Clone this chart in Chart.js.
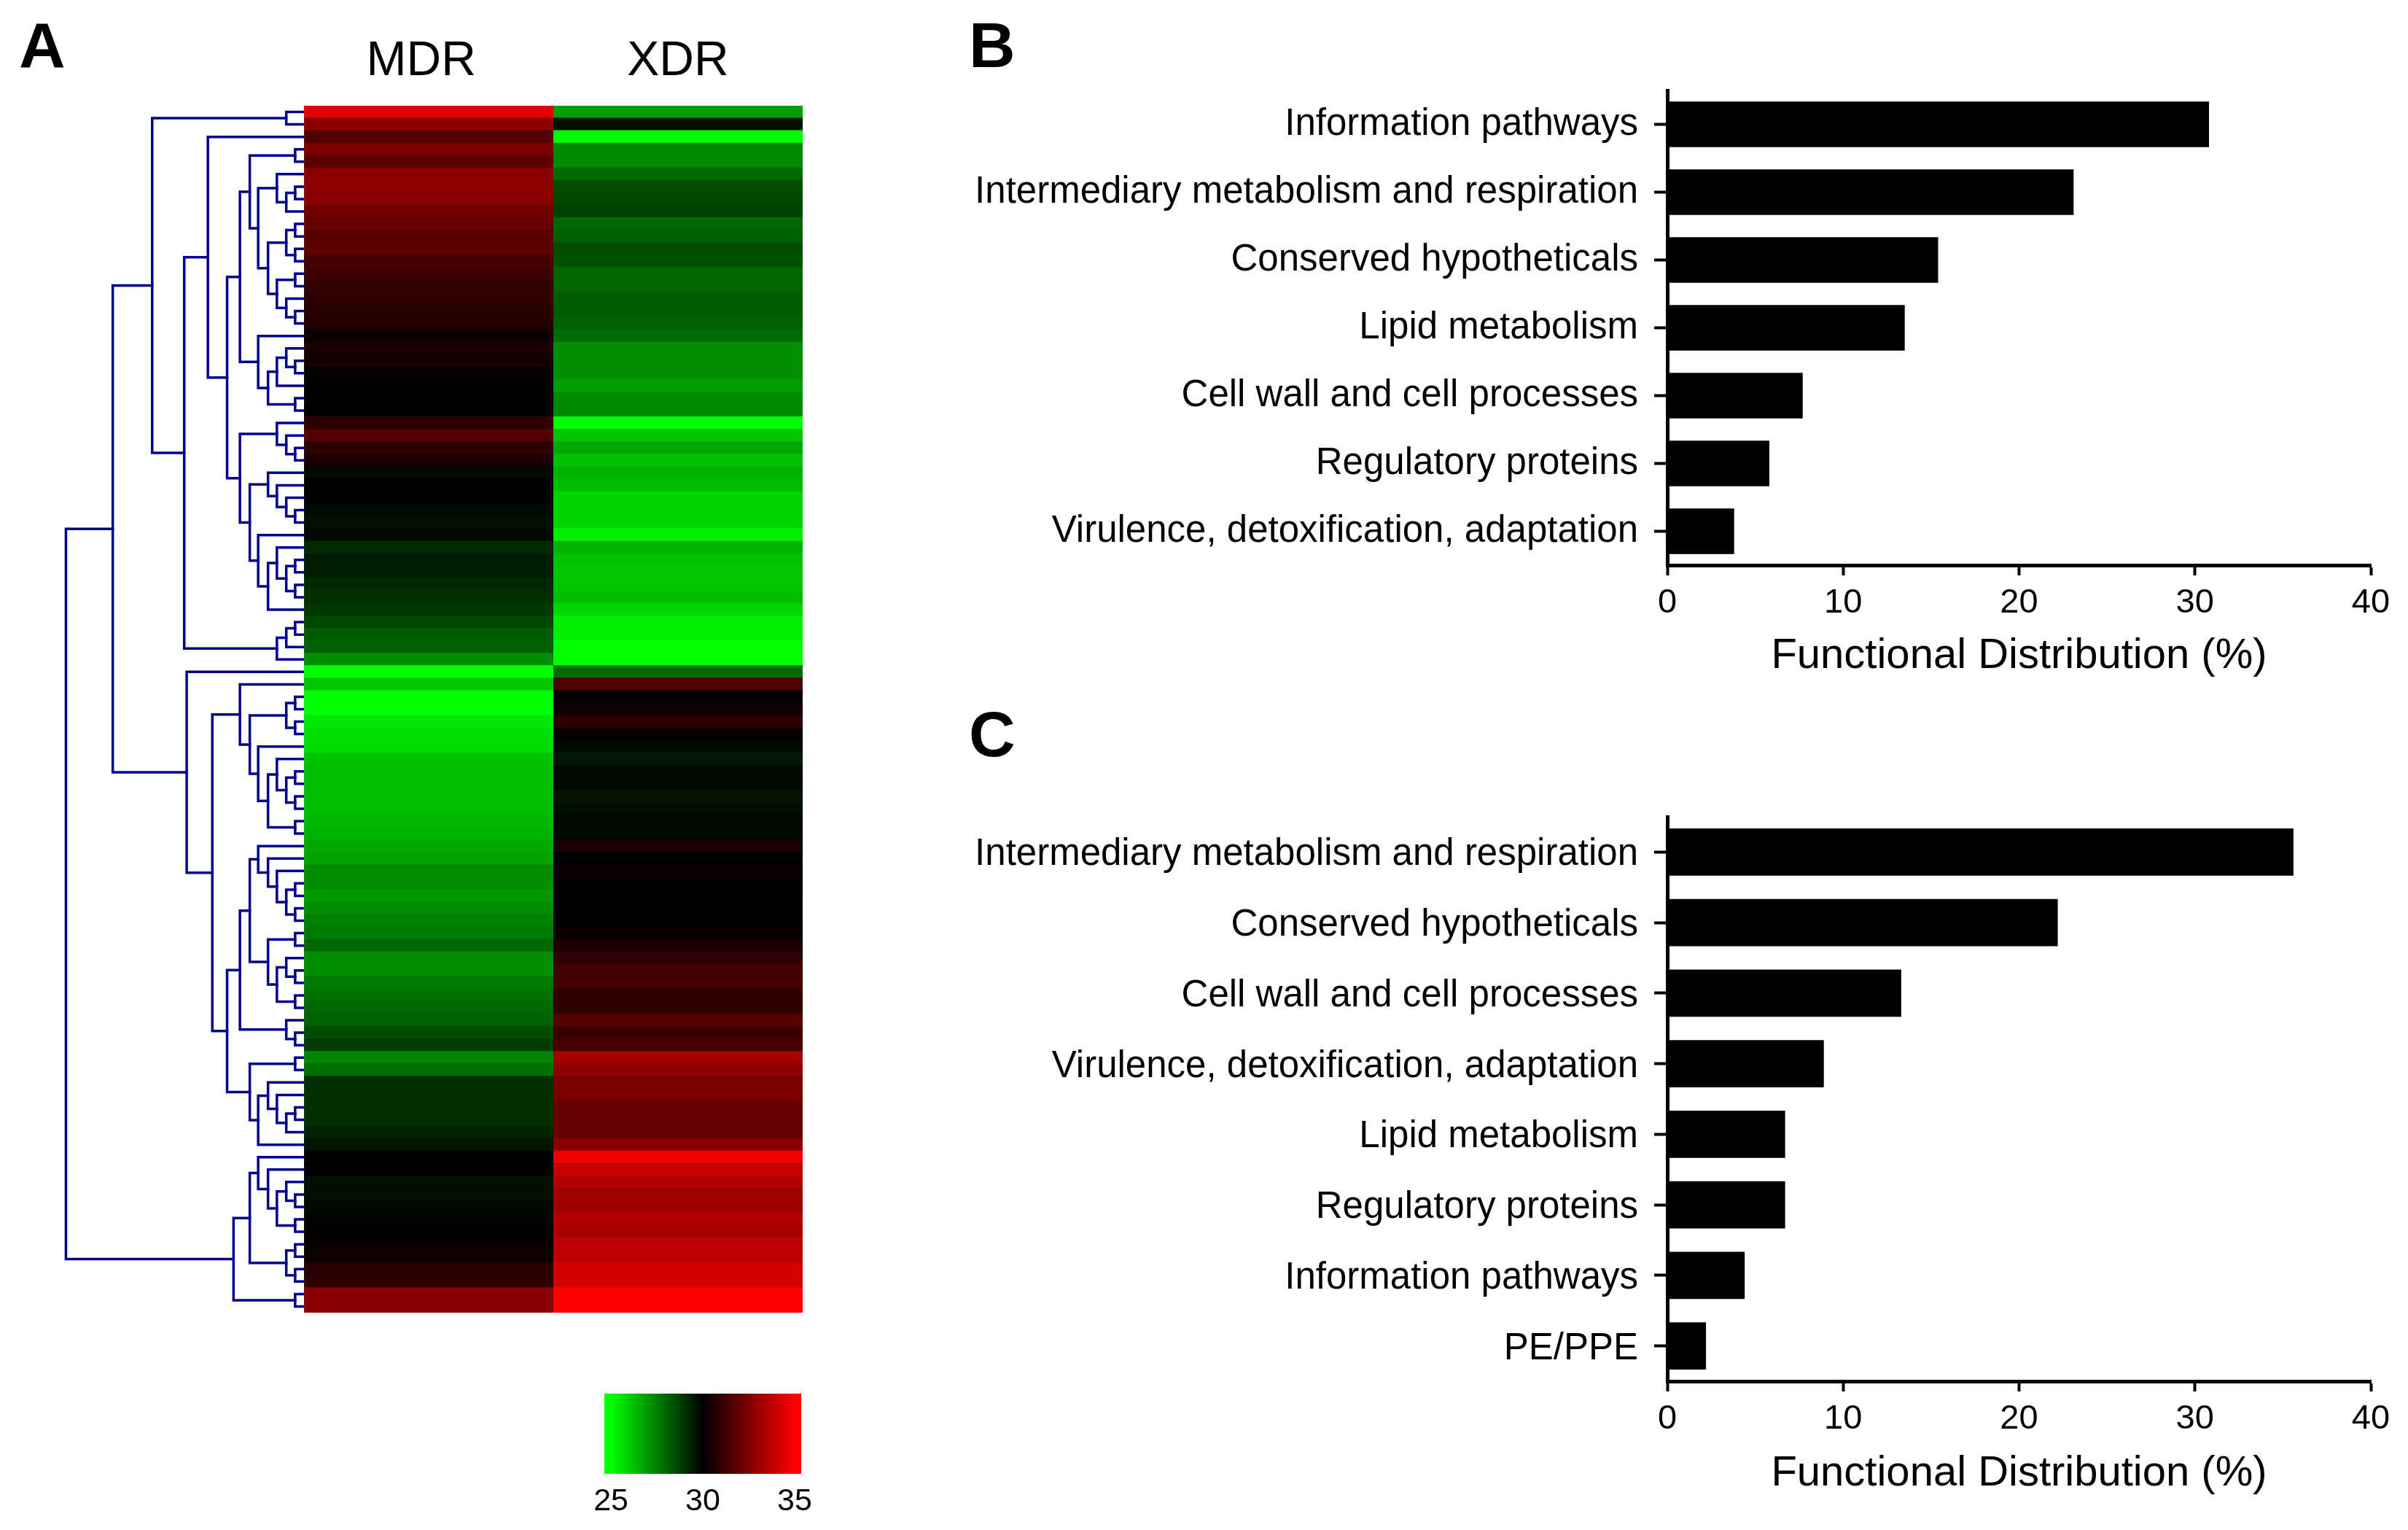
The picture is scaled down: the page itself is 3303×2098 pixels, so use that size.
<!DOCTYPE html>
<html>
<head>
    <title>MDR / XDR heat map and functional distribution</title>
    <script src="https://cdnjs.cloudflare.com/ajax/libs/Chart.js/4.4.1/chart.umd.min.js"></script>
    <style>
        html, body { margin: 0; background: #fff; overflow: hidden; }
        body { width: 3303px; height: 2098px; position: relative; font-family: "Liberation Sans", Arial, sans-serif; }
        canvas { position: absolute; }
        .letter { position: absolute; font-weight: bold; font-size: 88px; line-height: 88px; color: #000; }
    </style>
</head>
<body>
    <div class="letter" style="left:26px; top:18px;">A</div>
    <div class="letter" style="left:1329px; top:18px;">B</div>
    <div class="letter" style="left:1329px; top:963px;">C</div>

    <canvas id="dendroChart" width="357" height="1900" style="left:60px; top:0;"></canvas>
    <canvas id="heatChart" width="684" height="1900" style="left:417px; top:0;"></canvas>
    <canvas id="scaleChart" width="400" height="220" style="left:780px; top:1878px;"></canvas>
    <canvas id="barChartB" width="2003" height="879" style="left:1300px; top:60px;"></canvas>
    <canvas id="barChartC" width="2003" height="1000" style="left:1300px; top:1060px;"></canvas>

    <script>
        // Heat map, one value per gene row (colour scale runs 25 to 35)
        const columns = ['MDR', 'XDR'];
        const mdrValues = [
            34.4, 32.7, 31.6, 32.4, 31.8, 32.7, 32.75, 32.7, 32.2, 32.0,
            31.7, 31.8, 31.4, 31.2, 31.0, 30.9, 30.8, 30.7, 30.2, 30.5,
            30.4, 30.1, 30.0, 30.0, 30.0, 30.9, 31.6, 30.9, 30.5, 29.85,
            30.0, 30.0, 29.8, 29.7, 29.8, 29.2, 29.45, 29.45, 29.2, 29.05,
            28.9, 28.6, 28.2, 28.1, 27.2, 25.0, 26.1, 25.0, 25.0, 25.45,
            25.6, 25.7, 26.2, 26.3, 26.3, 26.3, 26.3, 26.4, 26.5, 26.7,
            26.8, 27.25, 27.2, 27.0, 27.25, 27.5, 27.6, 28.0, 27.2, 27.2,
            27.6, 27.8, 28.0, 28.1, 28.5, 28.8, 27.4, 27.8, 29.1, 29.05,
            29.05, 29.05, 29.3, 29.6, 30.0, 30.0, 29.7, 29.7, 29.85, 29.9,
            30.0, 30.15, 30.3, 30.8, 30.9, 32.7, 32.7
        ];
        const xdrValues = [
            26.9, 29.7, 25.0, 27.3, 27.3, 27.9, 28.5, 28.6, 28.7, 28.0,
            28.1, 28.5, 28.4, 28.0, 28.0, 28.2, 28.2, 28.1, 27.9, 27.2,
            27.2, 27.2, 26.9, 27.3, 27.3, 25.0, 26.1, 26.7, 26.2, 26.5,
            26.3, 25.85, 25.85, 25.85, 25.3, 26.5, 26.2, 26.1, 26.1, 26.3,
            25.8, 25.3, 25.3, 25.0, 25.0, 27.9, 31.5, 30.0, 30.3, 30.9,
            30.2, 29.8, 29.5, 29.8, 29.8, 29.6, 29.7, 29.85, 29.85, 30.5,
            30.0, 30.2, 30.1, 30.0, 30.0, 30.0, 30.15, 30.5, 30.9, 31.3,
            31.3, 30.9, 30.9, 31.7, 31.1, 31.4, 33.2, 32.8, 32.4, 32.4,
            32.0, 32.0, 32.0, 32.7, 34.7, 33.9, 33.5, 33.1, 33.1, 33.5,
            33.3, 33.7, 33.7, 34.2, 34.2, 35.0, 35.0
        ];
        const scaleTicks = [25, 30, 35];

        // Dendrogram branches: [distance, upper child, lower child], a plain number is a gene row
        const armA6 = [130,
            [110, [18, 3, 4],
                [93, [55, 5, [36, [18, 6, 7], 8]],
                    [73, [36, [18, 9, 10], [18, 11, 12]],
                        [55, [18, 13, 14], [36, 15, [18, 16, 17]]]]]],
            [93, 18, [73, [55, [36, 19, [18, 20, 21]], 22], [18, 23, 24]]]];
        const armA7 = [130,
            [55, 25, [36, 26, [18, 27, 28]]],
            [110, [73, 29, [55, 30, [36, 31, [18, 32, 33]]]],
                [93, 34, [73, [55, 35, [36, [18, 36, 37], [18, 38, 39]]], 40]]]];
        const armA = [308, [36, 0, 1],
            [243, [195, 2, [156, armA6, armA7]], [55, [36, [18, 41, 42], 43], 44]]];
        const armB2 = [130, 46,
            [110, [36, [18, 47, 48], [18, 49, 50]],
                [93, 51, [73, [55, 52, [36, [18, 53, 54], [18, 55, 56]]], [18, 57, 58]]]]];
        const armB4 = [130,
            [110, [93, 59, [73, 60, [55, 61, [36, [18, 62, 63], [18, 64, 65]]]]],
                [73, [18, 66, 67], [55, [36, 68, [18, 69, 70]], [18, 71, 72]]]],
            [36, 73, [18, 74, 75]]];
        const armB5 = [110, [18, 76, 77],
            [93, [73, 78, [55, 79, [36, [18, 80, 81], 82]]], 83]];
        const armB = [238, 45, [186, armB2, [156, armB4, armB5]]];
        const armC = [143,
            [110, [93, 84, [73, 85, [55, [36, 86, [18, 87, 88]], [18, 89, 90]]]],
                [36, [18, 91, 92], [18, 93, 94]]],
            [18, 95, 96]];
        const dendroRoot = [483, [388, armA, armB], armC];

        // Panel B
        const labelsB = ['Information pathways', 'Intermediary metabolism and respiration', 'Conserved hypotheticals',
            'Lipid metabolism', 'Cell wall and cell processes', 'Regulatory proteins', 'Virulence, detoxification, adaptation'];
        const valuesB = [30.8, 23.1, 15.4, 13.5, 7.7, 5.8, 3.8];

        // Panel C
        const labelsC = ['Intermediary metabolism and respiration', 'Conserved hypotheticals', 'Cell wall and cell processes',
            'Virulence, detoxification, adaptation', 'Lipid metabolism', 'Regulatory proteins', 'Information pathways', 'PE/PPE'];
        const valuesC = [35.6, 22.2, 13.3, 8.9, 6.7, 6.7, 4.4, 2.2];

        const fontName = '"Liberation Sans", Arial, sans-serif';
        Chart.defaults.font.family = fontName;
        Chart.defaults.color = '#000';
        Chart.defaults.animation = false;
        Chart.defaults.responsive = false;
        Chart.defaults.plugins.legend.display = false;
        Chart.defaults.plugins.tooltip.enabled = false;

        // green at 25, black at 30, red at 35
        function heatColor(value) {
            var t = Math.max(-1, Math.min(1, (value - 30) / 5));
            var level = Math.round(Math.abs(t) * 255);
            return t >= 0 ? 'rgb(' + level + ',0,0)' : 'rgb(0,' + level + ',0)';
        }

        // Function to turn the branch tree into one line dataset per bracket
        function collectBrackets(node, datasets) {
            if (typeof node === 'number') {
                return { x: 0, y: node };
            }
            var upper = collectBrackets(node[1], datasets);
            var lower = collectBrackets(node[2], datasets);
            datasets.push({
                data: [
                    { x: upper.x, y: upper.y },
                    { x: node[0], y: upper.y },
                    { x: node[0], y: lower.y },
                    { x: lower.x, y: lower.y }
                ],
                showLine: true,
                borderColor: '#00008f',
                borderWidth: 3.5,
                borderCapStyle: 'square',
                pointRadius: 0,
                clip: false
            });
            return { x: node[0], y: (upper.y + lower.y) / 2 };
        }

        var brackets = [];
        collectBrackets(dendroRoot, brackets);
        new Chart(document.getElementById('dendroChart'), {
            type: 'scatter',
            data: { datasets: brackets },
            options: {
                layout: { padding: { top: 145, bottom: 100 }, autoPadding: false },
                scales: {
                    x: { display: false, reverse: true, min: 0, max: 528 },
                    y: { display: false, reverse: true, min: -0.5, max: mdrValues.length - 0.5 }
                }
            }
        });

        // Heat map as stacked horizontal bars, one stack per gene row
        new Chart(document.getElementById('heatChart'), {
            type: 'bar',
            data: {
                labels: mdrValues.map(function (v, i) { return i; }),
                datasets: [mdrValues, xdrValues].map(function (values, c) {
                    return {
                        label: columns[c],
                        data: values.map(function () { return 1; }),
                        backgroundColor: values.map(heatColor),
                        borderWidth: 0,
                        barPercentage: 1.06,
                        categoryPercentage: 1
                    };
                })
            },
            options: {
                indexAxis: 'y',
                layout: { padding: { bottom: 100 }, autoPadding: false },
                scales: {
                    y: { display: false, stacked: true },
                    x: {
                        stacked: true,
                        position: 'top',
                        min: 0,
                        max: 2,
                        border: { display: false },
                        grid: { display: false, drawTicks: false },
                        afterBuildTicks: function (scale) {
                            scale.ticks = [{ value: 0.47 }, { value: 1.5 }];
                        },
                        afterFit: function (scale) { scale.height = 145; },
                        ticks: {
                            padding: 21,
                            maxRotation: 0,
                            font: { size: 66 },
                            callback: function (value) { return columns[Math.floor(value)]; }
                        }
                    }
                }
            }
        });

        // Colour key: a single floating bar filled along the value scale
        new Chart(document.getElementById('scaleChart'), {
            type: 'bar',
            data: {
                labels: ['key'],
                datasets: [{
                    data: [[24.64, 35.36]],
                    borderWidth: 0,
                    barPercentage: 1,
                    categoryPercentage: 1,
                    backgroundColor: function (context) {
                        var chart = context.chart;
                        if (!chart.chartArea) { return '#000'; }
                        var x = chart.scales.x;
                        var fill = chart.ctx.createLinearGradient(x.left, 0, x.right, 0);
                        scaleTicks.forEach(function (tick) {
                            var stop = (x.getPixelForValue(tick) - x.left) / (x.right - x.left);
                            fill.addColorStop(stop, heatColor(tick));
                        });
                        return fill;
                    }
                }]
            },
            options: {
                indexAxis: 'y',
                layout: { padding: { left: 49, right: 81, top: 33 }, autoPadding: false },
                scales: {
                    y: { display: false },
                    x: {
                        min: 24.64,
                        max: 35.36,
                        border: { display: false },
                        grid: { display: false, drawTicks: false },
                        afterBuildTicks: function (scale) {
                            scale.ticks = scaleTicks.map(function (v) { return { value: v }; });
                        },
                        afterFit: function (scale) { scale.height = 77; },
                        ticks: { padding: 12, font: { size: 43 }, maxRotation: 0 }
                    }
                }
            }
        });

        // Function to create one functional distribution bar panel
        function createBarPanel(canvasId, labels, values, paddingTop, axisHeight, labelShift) {
            return new Chart(document.getElementById(canvasId), {
                type: 'bar',
                data: {
                    labels: labels,
                    datasets: [{
                        data: values,
                        backgroundColor: '#000',
                        barPercentage: 0.67,
                        categoryPercentage: 1
                    }]
                },
                options: {
                    indexAxis: 'y',
                    layout: { padding: { top: paddingTop, right: 51 }, autoPadding: false },
                    scales: {
                        y: {
                            border: { color: '#000', width: 5 },
                            grid: { offset: false, drawOnChartArea: false, color: '#000', tickLength: 18, tickWidth: 4 },
                            afterFit: function (scale) { scale.width = 987; },
                            ticks: { padding: 22, font: { size: 51 }, autoSkip: false, labelOffset: labelShift }
                        },
                        x: {
                            min: 0,
                            max: 40,
                            border: { color: '#000', width: 5 },
                            grid: { drawOnChartArea: false, color: '#000', tickLength: 14, tickWidth: 4 },
                            afterFit: function (scale) { scale.height = axisHeight; },
                            ticks: { stepSize: 10, padding: 10, font: { size: 47 }, maxRotation: 0 },
                            title: {
                                display: true,
                                text: 'Functional Distribution (%)',
                                font: { size: 58 },
                                padding: { top: 12 }
                            }
                        }
                    }
                }
            });
        }

        createBarPanel('barChartB', labelsB, valuesB, 64, 164, 0);
        createBarPanel('barChartC', labelsC, valuesC, 60, 166, 4);
    </script>
</body>
</html>
